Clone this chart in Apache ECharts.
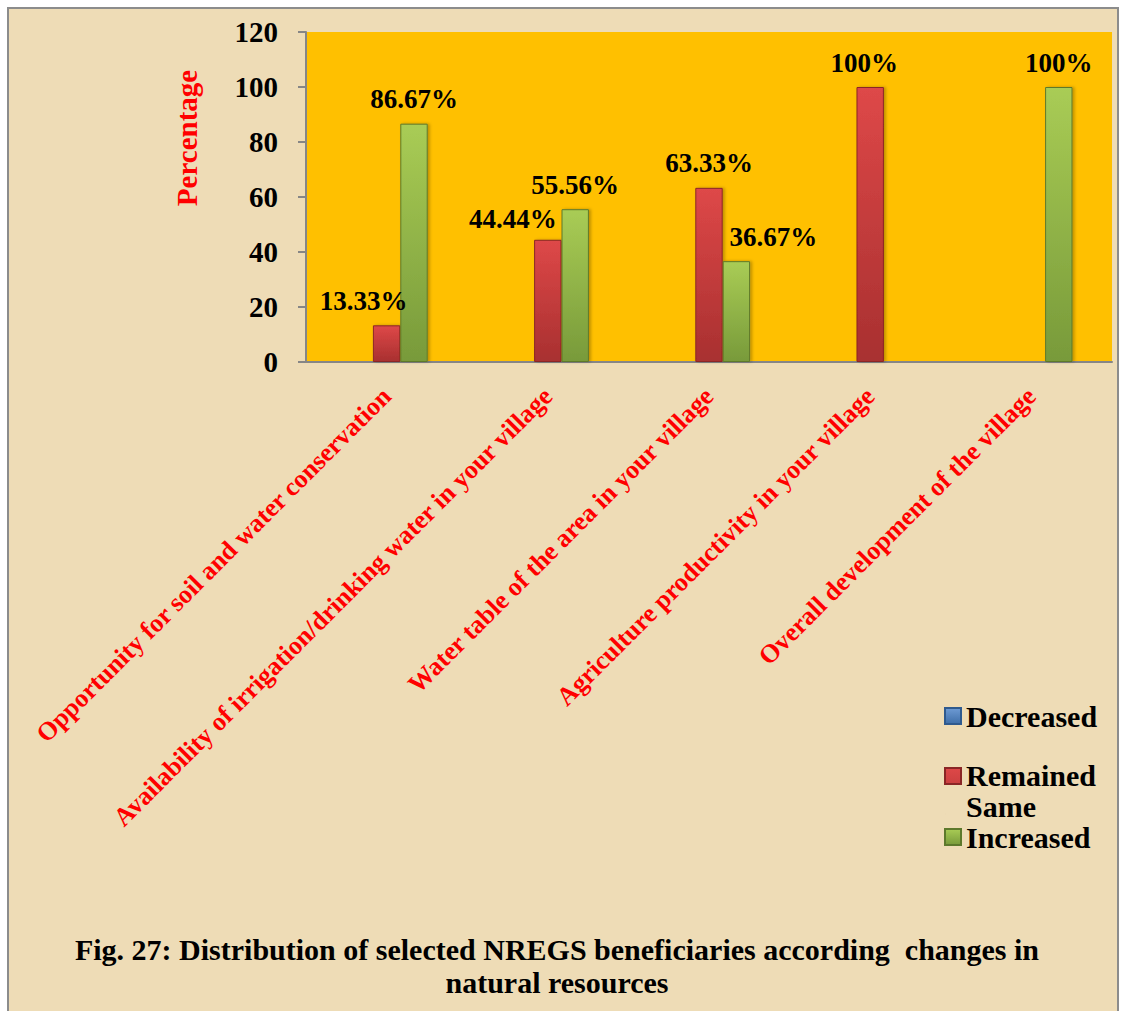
<!DOCTYPE html>
<html>
<head>
<meta charset="utf-8">
<title>Changes in natural resources</title>
<script src="https://cdn.jsdelivr.net/npm/echarts@6/dist/echarts.min.js"></script>
<style>
  html, body { margin: 0; padding: 0; background: #ffffff; }
  #chart { width: 1124px; height: 1011px; }
</style>
</head>
<body>
<div id="chart"></div>
<script>
// Survey categories (x axis)
const categories = [
  'Opportunity for soil and water conservation',
  'Availability of irrigation/drinking water in your village',
  'Water table of the area in your village',
  'Agriculture productivity in your village',
  'Overall development of the village'
];

// Share of beneficiaries per response (%)
const decreased = [0, 0, 0, 0, 0];
const remainedSame = [13.33, 44.44, 63.33, 100, 0];
const increased = [86.67, 55.56, 36.67, 0, 100];

// Y axis ticks
const yTicks = [0, 20, 40, 60, 80, 100, 120];

const seriesNames = ['Decreased', 'Remained Same', 'Increased'];

const FONT = 'Liberation Serif';

// nudges for value labels that would otherwise collide with neighbours
const labelNudge = {
  'Remained Same': { 0: [-23, 0], 1: [-35, 4], 3: [-6, 0] },
  'Increased': { 2: [37, 0] }
};

function grad(top, bottom) {
  return new echarts.graphic.LinearGradient(0, 0, 0, 1, [
    { offset: 0, color: top },
    { offset: 1, color: bottom }
  ]);
}

const styles = {
  'Decreased': { color: grad('#6E9BD4', '#3E6EA8'), border: '#2F5A8E' },
  'Remained Same': { color: grad('#DE4848', '#A83030'), border: '#8A2626' },
  'Increased': { color: grad('#A9CC55', '#789A3A'), border: '#5D792C' }
};

function buildData(name, values) {
  const nudges = labelNudge[name] || {};
  return values.map((v, i) => {
    const item = { value: v };
    if (nudges[i]) item.label = { offset: nudges[i] };
    return item;
  });
}

function barSeries(name, values) {
  const st = styles[name];
  return {
    name: name,
    type: 'bar',
    barGap: '0%',
    barCategoryGap: '49%',
    data: buildData(name, values),
    itemStyle: {
      color: st.color,
      borderColor: st.border,
      borderWidth: 1,
      shadowColor: 'rgba(0,0,0,0.25)',
      shadowBlur: 3,
      shadowOffsetX: 2
    },
    label: {
      show: name !== 'Decreased',
      position: 'top',
      distance: 11,
      color: '#000000',
      fontFamily: FONT,
      fontWeight: 'bold',
      fontSize: 27,
      formatter: p => (p.value ? p.value + '%' : '')
    },
    emphasis: { disabled: true }
  };
}

function legendText(lineHeight) {
  return {
    color: '#000000',
    fontFamily: FONT,
    fontWeight: 'bold',
    fontSize: 30,
    lineHeight: lineHeight
  };
}

const chart = echarts.init(document.getElementById('chart'), null, { renderer: 'svg' });

chart.setOption({
  backgroundColor: '#ffffff',
  animation: false,
  grid: {
    left: 306, right: 12, top: 32, bottom: 649,
    show: true,
    backgroundColor: '#FFC000',
    borderWidth: 0,
    containLabel: false,
    outerBoundsMode: 'none'
  },
  legend: [
    {
      data: [seriesNames[0]],
      left: 944, top: 700, padding: 0,
      itemWidth: 16, itemHeight: 16, icon: 'rect',
      textStyle: legendText(32), selectedMode: false
    },
    {
      data: [seriesNames[1]],
      left: 944, top: 760, padding: 0,
      itemWidth: 16, itemHeight: 46,
      // square drawn in the upper part so it lines up with the first text line
      icon: 'path://M0,0L16,0L16,16L0,16Z M0,46L0.01,46',
      formatter: () => 'Remained\nSame',
      textStyle: legendText(31), selectedMode: false
    },
    {
      data: [seriesNames[2]],
      left: 944, top: 822, padding: 0,
      itemWidth: 16, itemHeight: 16, icon: 'rect',
      textStyle: legendText(30), selectedMode: false
    }
  ],
  xAxis: {
    type: 'category',
    data: categories,
    axisLine: { show: true, lineStyle: { color: '#868686', width: 2 } },
    axisTick: { show: false },
    axisLabel: {
      interval: 0,
      rotate: 45,
      margin: 30,
      color: '#FF0000',
      fontFamily: FONT,
      fontWeight: 'bold',
      fontSize: 26
    },
    splitLine: { show: false }
  },
  yAxis: {
    type: 'value',
    min: yTicks[0],
    max: yTicks[yTicks.length - 1],
    interval: yTicks[1] - yTicks[0],
    axisLine: { show: true, lineStyle: { color: '#868686', width: 2 } },
    axisTick: { show: true, inside: false, length: 8, lineStyle: { color: '#868686', width: 2 } },
    axisLabel: {
      margin: 28,
      color: '#000000',
      fontFamily: FONT,
      fontWeight: 'bold',
      fontSize: 29
    },
    splitLine: { show: false }
  },
  graphic: [
    {
      type: 'rect',
      z: -10,
      shape: { x: 8, y: 8, width: 1110, height: 1010 },
      style: { fill: '#EEDCB6', stroke: '#8C8C8C', lineWidth: 2 },
      silent: true
    },
    {
      type: 'text',
      x: 187, y: 138,
      rotation: Math.PI / 2,
      style: {
        text: 'Percentage',
        fill: '#FF0000',
        fontFamily: FONT,
        fontWeight: 'bold',
        fontSize: 29,
        align: 'center',
        verticalAlign: 'middle'
      },
      silent: true
    },
    {
      type: 'text',
      x: 557, y: 966,
      style: {
        text: 'Fig. 27: Distribution of selected NREGS beneficiaries according  changes in\nnatural resources',
        fill: '#000000',
        fontFamily: FONT,
        fontWeight: 'bold',
        fontSize: 30,
        lineHeight: 33,
        align: 'center',
        verticalAlign: 'middle'
      },
      silent: true
    }
  ],
  series: [
    barSeries(seriesNames[0], decreased),
    barSeries(seriesNames[1], remainedSame),
    barSeries(seriesNames[2], increased)
  ]
});
</script>
</body>
</html>
